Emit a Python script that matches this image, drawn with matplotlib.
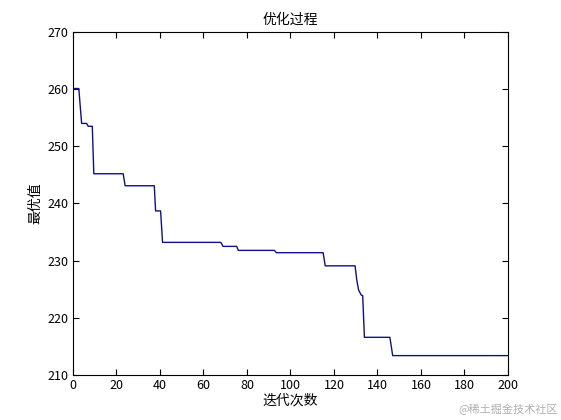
import matplotlib
matplotlib.use('Agg')
from matplotlib import pyplot as plt

plt.rcParams['font.family'] = ['Noto Sans CJK SC', 'DejaVu Sans']

# turning points of the best-value curve (iteration, value)
iters = [0, 2.7, 4, 6.3, 7, 8.9, 9.6, 23.1, 24, 37.4, 38, 40.3, 41.2, 68, 69,
         75.3, 76, 92.6, 93.5, 115, 116, 129.7, 130.5, 131.3, 132.5, 133.2,
         134, 145.7, 147, 200]
best = [260.1, 260.1, 254.0, 254.0, 253.5, 253.5, 245.2, 245.2, 243.1, 243.1,
        238.7, 238.7, 233.2, 233.2, 232.5, 232.5, 231.8, 231.8, 231.4, 231.4,
        229.1, 229.1, 226.6, 224.9, 224.0, 223.9, 216.6, 216.6, 213.4, 213.4]
xticks = list(range(0, 201, 20))
yticks = list(range(210, 271, 10))

fig = plt.figure(figsize=(5.61, 4.2), dpi=100)
ax = fig.add_axes([0.13, 0.107, 0.7755, 0.817])
ax.plot(iters, best, color='#10108a', lw=1)
ax.set_xlim(0, 200)
ax.set_ylim(210, 270)
ax.set_xticks(xticks)
ax.set_yticks(yticks)
ax.tick_params(direction='in', top=True, right=True, length=4, labelsize=9, pad=3)
for s in ax.spines.values():
    s.set_linewidth(0.8)
ax.set_title('优化过程', fontsize=10, pad=6)
ax.set_xlabel('迭代次数', fontsize=10, labelpad=1)
ax.set_ylabel('最优值', fontsize=10, labelpad=4)
fig.text(0.995, 0.012, '@稀土掘金技术社区', ha='right', va='bottom',
         fontsize=8, color='#b0b0b0')

plt.savefig('out.png', dpi=100)
